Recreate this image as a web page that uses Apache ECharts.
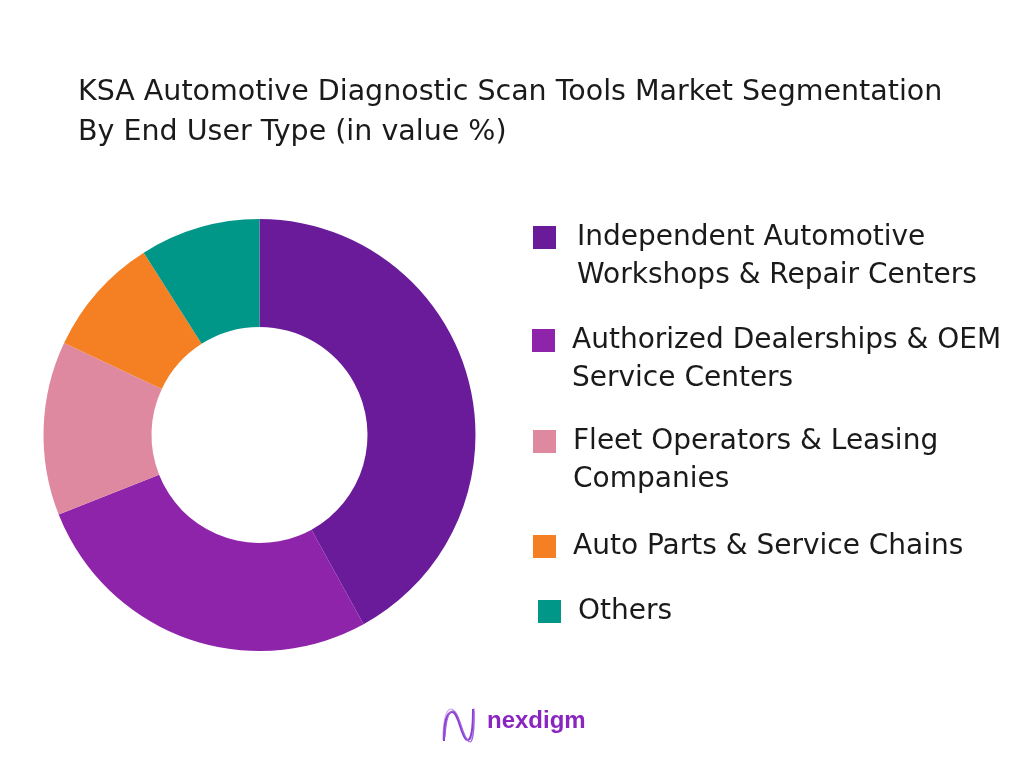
<!DOCTYPE html>
<html>
<head>
<meta charset="utf-8">
<script src="https://cdn.jsdelivr.net/npm/echarts@6/dist/echarts.min.js"></script>
<style>
html,body{margin:0;padding:0;background:#fff;}
#chart{width:1024px;height:768px;}
</style>
</head>
<body>
<div id="chart"></div>
<script>
var titleText = 'KSA Automotive Diagnostic Scan Tools Market Segmentation\nBy End User Type (in value %)';
var categories = [
  'Independent Automotive\nWorkshops & Repair Centers',
  'Authorized Dealerships & OEM\nService Centers',
  'Fleet Operators & Leasing\nCompanies',
  'Auto Parts & Service Chains',
  'Others'
];
var values = [42, 27, 13, 9, 9];
var colors = ['#6A1B9A', '#8E24AA', '#DF89A0', '#F58024', '#009688'];

var FONT = 'DejaVu Sans';
var LH = 38;
var ICON = 23;
// legend placement (icon left/top) per item
var legendPos = [[533, 226], [532, 329], [533, 430], [533, 535], [538, 600]];
var textShift = [16, 12, 12, 12, 12];

var legends = categories.map(function (c, i) {
  var lines = c.split('\n').length;
  var blanks = lines - 1;
  var total = lines + blanks;
  var boxTop = ICON / 2 - (total * LH) / 2;
  return {
    data: [c],
    orient: 'vertical',
    left: legendPos[i][0],
    top: legendPos[i][1] + boxTop,
    padding: 0,
    itemWidth: ICON,
    itemHeight: ICON,
    icon: 'rect',
    selectedMode: false,
    formatter: function (name) {
      return new Array(blanks + 1).join('\n') + name;
    },
    textStyle: {
      fontFamily: FONT,
      fontSize: 28,
      color: '#1a1a1a',
      lineHeight: LH,
      padding: [0, 0, 0, textShift[i]]
    }
  };
});

// decorative logo strands (each: list of cubic segments [x1,y1,cx1,cy1,cx2,cy2,x2,y2])
function strand(segs, color, width) {
  return segs.map(function (s) {
    return {
      type: 'bezierCurve',
      shape: { x1: s[0], y1: s[1], cpx1: s[2], cpy1: s[3], cpx2: s[4], cpy2: s[5], x2: s[6], y2: s[7] },
      style: { stroke: color, lineWidth: width, fill: null }
    };
  });
}
var logoChildren = []
  .concat(strand([[1, 33, 1, 14, 4, 2, 9, 2], [9, 2, 16, 2, 20, 33, 27, 33], [27, 33, 31, 33, 33, 20, 32, 1]], '#C9A0F0', 1.2))
  .concat(strand([[2, 34, 2, 16, 5, 5, 10, 5], [10, 5, 17, 5, 19, 31, 25, 33], [25, 33, 30, 34, 31, 18, 31, 2]], '#8A3FD0', 2))
  .concat(strand([[3, 30, 4, 12, 7, 3, 12, 4], [12, 4, 18, 6, 21, 34, 28, 35], [28, 35, 32, 35, 32, 18, 32, 4]], '#A060E0', 1.2));

var chart = echarts.init(document.getElementById('chart'));
chart.setOption({
  backgroundColor: '#ffffff',
  animation: false,
  color: colors,
  title: {
    text: titleText,
    left: 78,
    top: 73,
    padding: 0,
    textStyle: {
      fontFamily: FONT,
      fontSize: 28.5,
      fontWeight: 'normal',
      color: '#1a1a1a',
      lineHeight: 40
    }
  },
  legend: legends,
  series: [{
    type: 'pie',
    center: [259.5, 435],
    radius: [108, 216],
    startAngle: 90,
    clockwise: true,
    label: { show: false },
    labelLine: { show: false },
    itemStyle: { borderWidth: 0 },
    emphasis: { disabled: true },
    data: categories.map(function (c, i) { return { name: c, value: values[i] }; })
  }],
  graphic: [
    {
      type: 'group',
      x: 442,
      y: 707,
      silent: true,
      children: logoChildren
    },
    {
      type: 'text',
      x: 487,
      y: 709,
      silent: true,
      style: {
        text: 'nexdigm',
        fontFamily: 'Liberation Sans',
        fontSize: 24,
        fontWeight: 'bold',
        fill: '#8A25C0'
      }
    }
  ]
});
</script>
</body>
</html>
